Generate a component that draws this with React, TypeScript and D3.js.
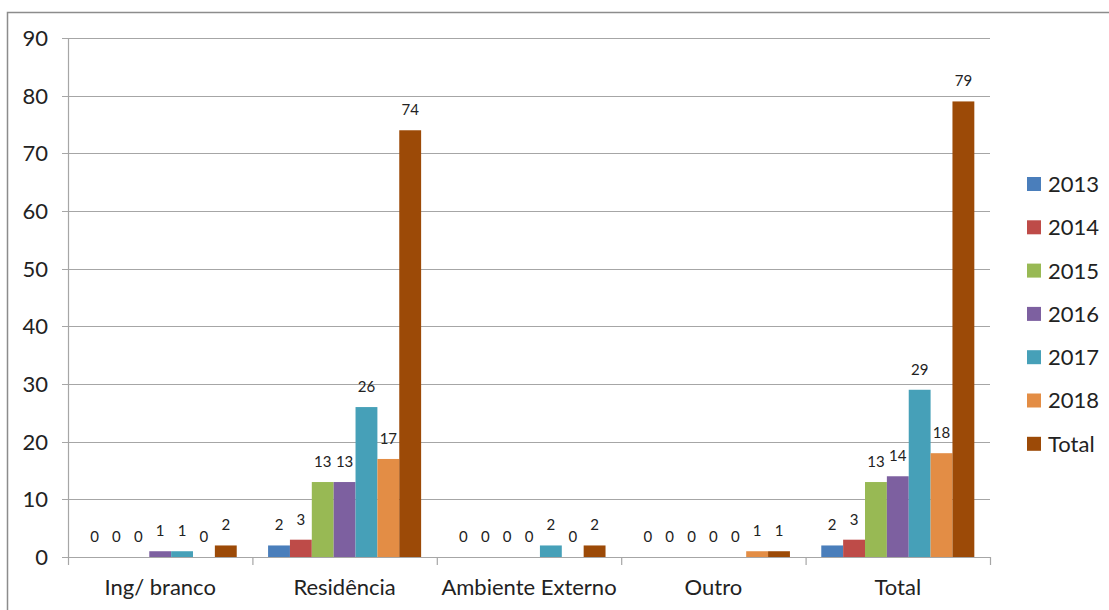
import * as d3 from 'd3';

const categories = ['Ing/ branco', 'Residência', 'Ambiente Externo', 'Outro', 'Total'];
const seriesNames = ['2013', '2014', '2015', '2016', '2017', '2018', 'Total'];
const seriesColors = ['#4A7EBB', '#BE4B48', '#98B954', '#7D60A0', '#46A0B8', '#E38D45', '#9C4A07'];
// values[series][category]
const values2013 = [0, 2, 0, 0, 2];
const values2014 = [0, 3, 0, 0, 3];
const values2015 = [0, 13, 0, 0, 13];
const values2016 = [1, 13, 0, 0, 14];
const values2017 = [1, 26, 2, 0, 29];
const values2018 = [0, 17, 0, 1, 18];
const valuesTotal = [2, 74, 2, 1, 79];
const seriesValues = [values2013, values2014, values2015, values2016, values2017, values2018, valuesTotal];
const yTicks = [0, 10, 20, 30, 40, 50, 60, 70, 80, 90];

const W = 1109;
const H = 610;
const margin = { left: 68, right: 990, top: 38, bottom: 557 };
const FONT = 'Lato, Carlito, "Noto Sans", sans-serif';

export default function App() {
  const x = d3.scaleBand<string>().domain(categories).range([margin.left, margin.right]).padding(0);
  const gap = x.bandwidth() * 0.085;
  const xs = d3
    .scaleBand<string>()
    .domain(seriesNames)
    .range([gap, x.bandwidth() - gap])
    .padding(0);
  const y = d3.scaleLinear().domain([0, 90]).range([margin.bottom, margin.top]);
  const edges = [...categories.map((c) => x(c) as number), margin.right];

  return (
    <svg
      width={W}
      height={H}
      style={{ position: 'absolute', left: 0, top: 0, display: 'block' }}
      fontFamily={FONT}
    >
      <rect x={0} y={0} width={W} height={H} fill="#fff" />
      <rect x={7.5} y={12.5} width={W + 20} height={H + 20} fill="none" stroke="#8c8c8c" strokeWidth={1.5} />

      {/* gridlines */}
      {yTicks.map((t) => (
        <g key={t}>
          <line
            x1={margin.left - 6}
            x2={t === 0 ? margin.right : margin.right}
            y1={Math.round(y(t)) + 0.5}
            y2={Math.round(y(t)) + 0.5}
            stroke="#a6a6a6"
            strokeWidth={1.2}
          />
          <text
            x={48}
            y={y(t)}
            dy="0.36em"
            textAnchor="end"
            fontSize={22}
            fill="#222"
          >
            {t}
          </text>
        </g>
      ))}
      <line x1={margin.left + 0.5} x2={margin.left + 0.5} y1={margin.top} y2={margin.bottom} stroke="#a6a6a6" strokeWidth={1.2} />

      {/* category ticks */}
      {edges.map((e, i) => (
        <line key={i} x1={e + 0.5} x2={e + 0.5} y1={margin.bottom} y2={margin.bottom + 8} stroke="#a6a6a6" strokeWidth={1.2} />
      ))}

      {/* bars */}
      {seriesNames.map((s, si) => (
        <g key={s} fill={seriesColors[si]}>
          {categories.map((c, ci) => {
            const v = seriesValues[si][ci];
            const bx = (x(c) as number) + (xs(s) as number);
            return (
              <rect key={c} x={bx} y={y(v)} width={xs.bandwidth()} height={y(0) - y(v)} />
            );
          })}
        </g>
      ))}

      {/* data labels */}
      {seriesNames.map((s, si) => (
        <g key={s + 'l'}>
          {categories.map((c, ci) => {
            const v = seriesValues[si][ci];
            const bx = (x(c) as number) + (xs(s) as number) + xs.bandwidth() / 2;
            return (
              <text key={c} x={bx} y={y(v) - 15} textAnchor="middle" fontSize={15} fill="#222">
                {v}
              </text>
            );
          })}
        </g>
      ))}

      {/* category labels */}
      {categories.map((c) => (
        <text
          key={c}
          x={(x(c) as number) + x.bandwidth() / 2}
          y={587}
          dy="0.36em"
          textAnchor="middle"
          fontSize={22}
          fill="#222"
        >
          {c}
        </text>
      ))}

      {/* legend */}
      {seriesNames.map((s, i) => {
        const cy = 184 + i * 43.3;
        return (
          <g key={s + 'leg'}>
            <rect x={1027} y={cy - 7} width={14} height={14} fill={seriesColors[i]} />
            <text x={1048} y={cy} dy="0.36em" fontSize={22} fill="#222">
              {s}
            </text>
          </g>
        );
      })}
    </svg>
  );
}
